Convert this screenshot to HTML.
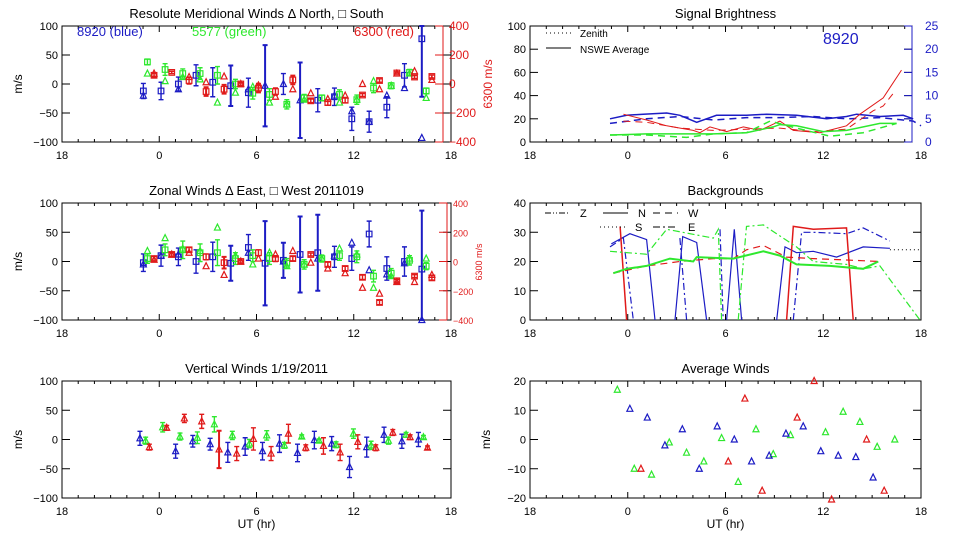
<!DOCTYPE html>
<html><head><meta charset="utf-8"><style>
html,body{margin:0;padding:0;background:#fff;}
svg{display:block;font-family:"Liberation Sans",sans-serif;}
</style></head><body>
<svg id="chart" width="960" height="540" viewBox="0 0 960 540" xmlns="http://www.w3.org/2000/svg"></svg>
<script>
// ---------- DATA ----------
const xTickLabels = ["18","0","6","12","18"];
const windTicks = [100,50,0,-50,-100];
const redTicks = [400,200,0,-200,-400];
const sigTicks = [100,80,60,40,20,0];
const sigBlueTicks = [25,20,15,10,5,0];
const bgTicks = [40,30,20,10,0];
const avgTicks = [20,10,0,-10,-20];

const merBlueT = [-0.98,0.11,1.18,2.27,3.30,4.41,5.50,6.53,7.66,8.69,9.78,10.81,11.88,12.95,14.04,15.13,16.20];
const merBlueSq = [-12,-12,0,15,3,-3,-15,null,null,null,-28,-22,-60,-65,-40,15,78];
const merBlueTri = [-20,null,-9,null,null,null,-9,-3,0,-28,null,-20,-47,-65,-20,-7,-93];
const merBlueErr = [13,15,12,18,25,35,25,70,18,65,20,15,20,18,18,20,100];
const merGreenT = [-0.73,0.36,1.45,2.52,3.59,4.70,5.77,6.80,7.87,8.94,10.03,11.12,12.19,13.22,14.31,15.44,16.47];
const merGreenSq = [38,25,18,18,15,0,-16,-18,-35,-24,-24,-18,-27,-7,-3,20,-12];
const merGreenTri = [18,5,12,8,-32,-15,-5,-32,-35,-27,null,-32,-27,5,-3,18,-24];
const merGreenErr = [5,10,8,10,15,8,10,10,8,6,5,8,8,8,5,5,5];
const merRedT = [-0.32,0.77,1.84,2.89,4.00,5.03,6.12,7.17,8.24,9.35,10.40,11.47,12.54,13.59,14.66,15.75,16.82];
const merRedSq = [60,80,24,-52,-36,0,-28,-52,28,-116,-128,-112,-76,24,76,48,52];
const merRedTri = [72,null,48,12,52,0,-10,-88,-36,-64,-104,-80,0,-36,72,88,28];
const merRedErr = [12,8,24,30,30,10,30,25,30,12,18,18,10,12,8,10,10];

const zonBlueSq = [-2,10,8,0,8,-3,24,-3,2,12,15,8,5,47,-12,0,-13];
const zonBlueTri = [-5,10,12,null,null,null,15,null,0,null,5,10,32,-15,-22,-3,-100];
const zonBlueErr = [15,18,15,20,25,30,22,72,30,65,65,18,20,22,20,25,100];
const zonGreenSq = [5,20,20,15,15,5,10,5,-3,-5,5,10,8,-25,-20,2,-8];
const zonGreenTri = [18,40,22,18,58,10,-5,15,-8,-5,5,22,12,-45,-25,5,5];
const zonGreenErr = [8,10,15,15,22,10,10,10,8,8,6,8,10,10,8,8,6];
const zonRedSq = [20,48,80,32,-8,0,60,20,20,48,-20,-48,-108,-280,-132,-100,-112];
const zonRedTri = [12,48,60,-32,-92,0,20,48,72,-8,-48,-80,-180,-220,-140,-140,-92];
const zonRedErr = [15,12,15,20,40,10,20,20,15,10,15,15,15,15,10,10,15];

const vertBlueT = [-1.19,1.01,2.07,3.14,4.23,5.30,6.37,7.42,8.53,9.57,10.64,11.74,12.80,13.87,14.97,15.99];
const vertBlueV = [2,-20,-3,-8,-22,-12,-20,-7,-23,-1,-7,-47,-13,8,-3,0];
const vertBlueE = [12,12,10,10,17,15,15,15,15,15,12,18,17,13,12,12];
const vertGreenT = [-0.84,0.21,1.28,2.35,3.40,4.51,5.56,6.63,7.72,8.79,9.86,10.91,11.98,13.07,14.14,15.23,16.30];
const vertGreenV = [-2,21,5,3,26,7,-7,7,-10,5,-2,-9,10,-10,-2,8,4];
const vertGreenE = [6,8,6,10,13,7,7,8,5,3,3,5,8,7,6,4,3];
const vertRedT = [-0.61,0.46,1.55,2.62,3.69,4.78,5.81,6.90,7.97,9.04,10.13,11.16,12.25,13.36,14.41,15.48,16.55];
const vertRedV = [-13,20,36,31,-17,-24,1,-24,10,-14,-11,-22,-4,-14,12,4,-14];
const vertRedE = [5,4,7,12,32,12,19,12,16,5,14,14,12,5,5,4,3];

const avgGreenT = [-0.64,0.40,1.46,2.55,3.61,4.67,5.76,6.78,7.87,8.93,9.99,12.14,13.22,14.25,15.31,16.39];
const avgGreenV = [17,-10,-12,-1,-4.5,-7.5,0.5,-14.5,3.5,-5,1.5,2.5,9.5,6,-2.5,0];
const avgBlueT = [0.13,1.20,2.28,3.35,4.39,5.49,6.54,7.60,8.68,9.71,10.77,11.85,12.92,14.0,15.06];
const avgBlueV = [10.5,7.5,-2,3.5,-10,4.5,0,-7.5,-5.5,2,4.5,-4,-5.5,-6,-13];
const avgRedT = [0.81,6.17,7.19,8.25,10.40,11.44,12.51,14.66,15.74];
const avgRedV = [-10,-7.5,14,-17.5,7.5,20,-20.5,0,-17.5];

const sigBlueSolidT = [-1.09,-0.07,0.95,2.39,3.20,4.23,5.45,7.29,8.52,10.36,12.21,13.43,14.05,15.48,16.91,17.52];
const sigBlueSolidV = [20,23,24,25,23,17,23,23,24,23,20,22,24,22,23,20];
const sigBlueDashT = [-1.09,1.16,3.20,5.25,7.29,9.34,11.39,13.43,15.48,17.52,18.0];
const sigBlueDashV = [16,20,22,19,21,21,22,20,21,18,14];
const sigRedSolidT = [-0.27,1.16,2.39,4.02,4.43,5.04,6.07,7.10,8.11,9.34,10.16,11.80,13.43,14.25,15.68,16.80];
const sigRedSolidV = [24,19,14,10,8,13,9,13,10,18,10,8,14,24,38,62];
const sigRedDashT = [-0.27,1.16,3.20,5.25,7.29,9.34,11.39,13.43,15.07,15.68,16.30];
const sigRedDashV = [18,17,12,10,11,12,9,11,27,31,42];
const sigGreenSolidT = [-1.09,1.16,3.20,5.25,7.29,8.93,9.34,10.36,12.0,13.43,15.48,16.50];
const sigGreenSolidV = [6,7,7,7,8,13,15,14,9,10,16,16];
const sigGreenDashT = [-1.09,1.16,3.61,5.25,7.29,8.73,10.36,12.41,14.45,16.50];
const sigGreenDashV = [6,6,4,7,8,18,12,5,8,16];

const bgBlueSolidT = [-1.01,0.13,1.16,1.67,null,2.90,3.37,4.23,4.84,null,6.07,6.54,6.99,null,9.14,9.65,10.36,11.39,12.82,14.45,16.09];
const bgBlueSolidV = [26,29.5,27.5,0,null,0,28.5,26.5,0,null,0,31,0,null,0,25,23,23.5,21.5,25,24.5];
const bgBlueDashT = [-1.09,-0.27,0.34,null,3.20,3.61,null,5.66,5.86,null,10.16,10.67,11.39,13.43,14.45,16.09];
const bgBlueDashV = [25,28,0,null,28,0,null,31,0,null,0,30,30,29.5,31.5,27];
const bgRedSolidT = [-0.47,-0.07,null,9.75,10.16,11.39,13.43,13.84];
const bgRedSolidV = [32,0,null,0,32,31,31.5,0];
const bgRedDashT = [-0.89,1.16,3.20,5.25,6.48,7.29,8.32,9.75,11.39,13.43,15.48];
const bgRedDashV = [16,18.5,20,21,21,24,25.5,21.5,21,20.5,20];
const bgGreenSolidT = [-0.89,-0.07,1.16,2.59,4.02,4.23,6.48,8.32,9.34,10.36,12.41,14.45,15.38];
const bgGreenSolidV = [16,17.5,18.5,21,20,21.5,21,23.5,22,19,18.5,17.5,20];
const bgGreenDashT = [-1.09,1.16,2.39,5.25,5.56,5.76,null,6.78,7.29,8.32,10.36,11.39,13.43,14.45,15.48,17.93];
const bgGreenDashV = [23.5,22.5,31,28,31,0,null,0,32,32.5,25,20,19,17.5,18.5,0];
const bgZenT = [16.09,17.93];
const bgZenV = [24,24];

// ---------- LAYOUT ----------
const svg = document.getElementById('chart');
const NS = 'http://www.w3.org/2000/svg';
const BLUE = '#1c1cc4', GREEN = '#2ee82e', RED = '#e01a1a';
const LEFT = [62,451], RIGHT = [530,921];
const ROWS = [[26,142],[203,320],[381,498]];

function mk(tag, attrs, parent) {
  const el = document.createElementNS(NS, tag);
  for (const k in attrs) el.setAttribute(k, attrs[k]);
  (parent || svg).appendChild(el);
  return el;
}
function txt(s, x, y, size, fill, anchor, parent) {
  const t = mk('text', {x:x, y:y, 'font-size':size, fill:fill, 'text-anchor':anchor}, parent);
  t.textContent = s;
  return t;
}
function xScale(cols) { return t => cols[0] + (t + 6) / 24 * (cols[1] - cols[0]); }
function yScale(row, lo, hi) { return v => row[1] - (v - lo) / (hi - lo) * (row[1] - row[0]); }

function frame(name, cols, row, title, ticks, lo, hi, boxRight, ylabel, xTitle) {
  const g = mk('g', {});
  
  
  const xr = boxRight || cols[1];
  const box = mk('rect', {x:cols[0], y:row[0], width:xr-cols[0], height:row[1]-row[0], fill:'none', stroke:'#000', 'stroke-width':1}, g);
  
  
  const X = xScale(cols), Y = yScale(row, lo, hi);
  for (let h = -6; h <= 18; h++) {
    const x = X(h);
    if (x > xr + 0.5) continue;
    const len = (h % 6 === 0) ? 6 : 3;
    mk('line', {x1:x, x2:x, y1:row[1], y2:row[1]-len, stroke:'#000'}, g);
    mk('line', {x1:x, x2:x, y1:row[0], y2:row[0]+len, stroke:'#000'}, g);
  }
  xTickLabels.forEach((s, i) => {
    const tl = txt(s, X(-6 + i*6), row[1] + 17, 11, '#000', 'middle', g);
    
    
  });
  ticks.forEach(v => {
    const y = Y(v);
    mk('line', {x1:cols[0], x2:cols[0]+8, y1:y, y2:y, stroke:'#000'}, g);
    mk('line', {x1:xr, x2:xr-8, y1:y, y2:y, stroke:'#000'}, g);
    const tl = txt(String(v).replace('-', '\u2212'), cols[0]-4, y+4, 11, '#000', 'end', g);
    
    
  });
  const tt = txt(title, (cols[0]+cols[1])/2, row[0]-8, 13, '#000', 'middle', g);
  
  
  if (ylabel) {
    const yl = txt('m/s', 0, 0, 12, '#000', 'middle', g);
    yl.setAttribute('transform', 'translate(' + (cols[0]-40) + ',' + ((row[0]+row[1])/2) + ') rotate(-90)');
    
    
  }
  if (xTitle) {
    const xt = txt('UT (hr)', (cols[0]+cols[1])/2, row[1]+30, 12, '#000', 'middle', g);
    
    
  }
  return {X, Y, g};
}

function redAxis(row, x, fs, name) {
  const g = mk('g', {});
  
  
  const Y = yScale(row, -400, 400);
  mk('line', {x1:x, x2:x, y1:row[0], y2:row[1], stroke:RED}, g);
  redTicks.forEach(v => {
    mk('line', {x1:x, x2:x-8, y1:Y(v), y2:Y(v), stroke:RED}, g);
    const t = txt(String(v).replace('-', '\u2212'), x+6, Y(v)+4, fs, RED, 'start', g);
    
    
  });
  return Y;
}

function square(g, x, y, c) {
  const s = mk('rect', {x:x-2.8, y:y-2.8, width:5.6, height:5.6, fill:'none', stroke:c, 'stroke-width':1.2}, g);
  
  
}
function tri(g, x, y, c) {
  const p = mk('polygon', {points:(x)+','+(y-3.5)+' '+(x-3)+','+(y+2.5)+' '+(x+3)+','+(y+2.5), fill:'none', stroke:c, 'stroke-width':1.2}, g);
  
  
}
function errbar(g, x, y, e, Y, c, lo, hi) {
  const top = Math.min(hi, y + e), bot = Math.max(lo, y - e);
  const w = e > 25 ? 2 : 1.4;
  const eb = mk('path', {d:'M'+x+' '+Y(top)+'V'+Y(bot)+'M'+(x-2.5)+' '+Y(top)+'h5M'+(x-2.5)+' '+Y(bot)+'h5', stroke:c, 'stroke-width':w, fill:'none'}, g);
  
  
}
function windSeries(name, X, Y, T, sq, tr, err, c, lo, hi) {
  const g = mk('g', {});
  
  
  T.forEach((t, i) => {
    const x = X(t);
    const center = sq && sq[i] != null ? sq[i] : (tr ? tr[i] : null);
    if (center != null) errbar(g, x, center, err[i], Y, c, lo, hi);
    if (tr && tr[i] != null && tr[i] >= lo && tr[i] <= hi) tri(g, x, Y(tr[i]), c);
    if (sq && sq[i] != null && sq[i] >= lo && sq[i] <= hi) square(g, x, Y(sq[i]), c);
  });
}
function lineSeries(name, X, Y, T, V, c, dash, w) {
  let d = '', pen = false;
  T.forEach((t, i) => {
    if (t == null || V[i] == null) { pen = false; return; }
    d += (pen ? 'L' : 'M') + X(t).toFixed(1) + ' ' + Y(V[i]).toFixed(1);
    pen = true;
  });
  const p = mk('path', {d:d, fill:'none', stroke:c, 'stroke-width':w || 1, 'stroke-dasharray':dash || 'none'});
  
  
}

// ---------- PANEL 1: Meridional ----------
let f = frame('meridional-panel', LEFT, ROWS[0], 'Resolute Meridional Winds \u0394 North, \u25A1 South', windTicks, -100, 100, null, true, false);
let Yr = redAxis(ROWS[0], 443, 12, 'meridional-red-axis');
windSeries('meridional-blue', f.X, f.Y, merBlueT, merBlueSq, merBlueTri, merBlueErr, BLUE, -100, 100);
windSeries('meridional-green', f.X, f.Y, merGreenT, merGreenSq, merGreenTri, merGreenErr, GREEN, -100, 100);
windSeries('meridional-red', f.X, Yr, merRedT, merRedSq, merRedTri, merRedErr, RED, -400, 400);
let l1 = txt('8920 (blue)', 77, 36, 13, BLUE, 'start');


let l2 = txt('5577 (green)', 192, 36, 13, GREEN, 'start');


let l3 = txt('6300 (red)', 354, 36, 13, RED, 'start');


let r1 = txt('6300 m/s', 0, 0, 12, RED, 'middle');
r1.setAttribute('transform', 'translate(492,84) rotate(-90)');



// ---------- PANEL 2: Zonal ----------
f = frame('zonal-panel', LEFT, ROWS[1], 'Zonal Winds \u0394 East, \u25A1 West 2011019', windTicks, -100, 100, null, true, false);
Yr = redAxis(ROWS[1], 447, 9, 'zonal-red-axis');
windSeries('zonal-blue', f.X, f.Y, merBlueT, zonBlueSq, zonBlueTri, zonBlueErr, BLUE, -100, 100);
windSeries('zonal-green', f.X, f.Y, merGreenT, zonGreenSq, zonGreenTri, zonGreenErr, GREEN, -100, 100);
windSeries('zonal-red', f.X, Yr, merRedT, zonRedSq, zonRedTri, zonRedErr, RED, -400, 400);
let r2 = txt('6300 m/s', 0, 0, 9, RED, 'middle');
r2.setAttribute('transform', 'translate(482,262) rotate(-90)');



// ---------- PANEL 3: Vertical ----------
f = frame('vertical-panel', LEFT, ROWS[2], 'Vertical Winds 1/19/2011', windTicks, -100, 100, null, true, true);
windSeries('vertical-blue', f.X, f.Y, vertBlueT, null, vertBlueV, vertBlueE, BLUE, -100, 100);
windSeries('vertical-green', f.X, f.Y, vertGreenT, null, vertGreenV, vertGreenE, GREEN, -100, 100);
windSeries('vertical-red', f.X, f.Y, vertRedT, null, vertRedV, vertRedE, RED, -100, 100);

// ---------- PANEL 4: Signal Brightness ----------
f = frame('signal-panel', RIGHT, ROWS[0], 'Signal Brightness', sigTicks, 0, 100, 912, false, false);
(function(){
  const g = mk('g', {});
  
  
  const Yb = yScale(ROWS[0], 0, 25);
  mk('line', {x1:912, x2:912, y1:ROWS[0][0], y2:ROWS[0][1], stroke:BLUE}, g);
  sigBlueTicks.forEach(v => {
    mk('line', {x1:912, x2:904, y1:Yb(v), y2:Yb(v), stroke:BLUE}, g);
    const t = txt(String(v), 925, Yb(v)+4, 12, BLUE, 'start', g);
    
    
  });
})();
lineSeries('signal-blue-solid', f.X, f.Y, sigBlueSolidT, sigBlueSolidV, BLUE, null, 1.5);
lineSeries('signal-blue-dashed', f.X, f.Y, sigBlueDashT, sigBlueDashV, BLUE, '7,5', 1.5);
lineSeries('signal-red-solid', f.X, f.Y, sigRedSolidT, sigRedSolidV, RED, null, 1);
lineSeries('signal-red-dashed', f.X, f.Y, sigRedDashT, sigRedDashV, RED, '7,5', 1);
lineSeries('signal-green-solid', f.X, f.Y, sigGreenSolidT, sigGreenSolidV, GREEN, null, 1.5);
lineSeries('signal-green-dashed', f.X, f.Y, sigGreenDashT, sigGreenDashV, GREEN, '7,5', 1.5);
(function(){
  const g = mk('g', {});
  
  
  mk('line', {x1:546, x2:571, y1:33, y2:33, stroke:'#000', 'stroke-dasharray':'1,3'}, g);
  const a = txt('Zenith', 580, 37, 10, '#000', 'start', g);
  
  
  mk('line', {x1:546, x2:571, y1:48, y2:48, stroke:'#000'}, g);
  const b = txt('NSWE Average', 580, 53, 10, '#000', 'start', g);
  
  
  const c = txt('8920', 823, 44, 16, BLUE, 'start', g);
  
  
})();

// ---------- PANEL 5: Backgrounds ----------
f = frame('backgrounds-panel', RIGHT, ROWS[1], 'Backgrounds', bgTicks, 0, 40, null, false, false);
lineSeries('bg-blue-solid', f.X, f.Y, bgBlueSolidT, bgBlueSolidV, BLUE, null, 1.2);
lineSeries('bg-blue-dashed', f.X, f.Y, bgBlueDashT, bgBlueDashV, BLUE, '7,3,2,3', 1.2);
lineSeries('bg-red-solid', f.X, f.Y, bgRedSolidT, bgRedSolidV, RED, null, 1.5);
lineSeries('bg-red-dashed', f.X, f.Y, bgRedDashT, bgRedDashV, RED, '7,5', 1.2);
lineSeries('bg-green-solid', f.X, f.Y, bgGreenSolidT, bgGreenSolidV, GREEN, null, 2);
lineSeries('bg-green-dashdot', f.X, f.Y, bgGreenDashT, bgGreenDashV, GREEN, '7,3,2,3', 1.2);
lineSeries('bg-zenith-dotted', f.X, f.Y, bgZenT, bgZenV, '#000', '1,3', 1);
(function(){
  const g = mk('g', {});
  
  
  const items = [['Z','6,2,1,2,1,2',545,213],['N','none',603,213],['W','7,5',653,213],['S','1,3',600,227],['E','7,3,2,3',653,227]];
  items.forEach(it => {
    mk('line', {x1:it[2], x2:it[2]+25, y1:it[3], y2:it[3], stroke:'#000', 'stroke-dasharray':it[1]}, g);
    const t = txt(it[0], it[2]+35, it[3]+4, 11, '#000', 'start', g);
    
    
  });
})();

// ---------- PANEL 6: Average Winds ----------
f = frame('average-panel', RIGHT, ROWS[2], 'Average Winds', avgTicks, -20, 20, null, true, true);
[['avg-green', avgGreenT, avgGreenV, GREEN], ['avg-blue', avgBlueT, avgBlueV, BLUE], ['avg-red', avgRedT, avgRedV, RED]].forEach(s => {
  const g = mk('g', {});
  
  
  s[1].forEach((t, i) => {
    const v = Math.max(-20.5, Math.min(20.5, s[2][i]));
    tri(g, f.X(t), f.Y(v), s[3]);
  });
});
</script>
</body></html>
